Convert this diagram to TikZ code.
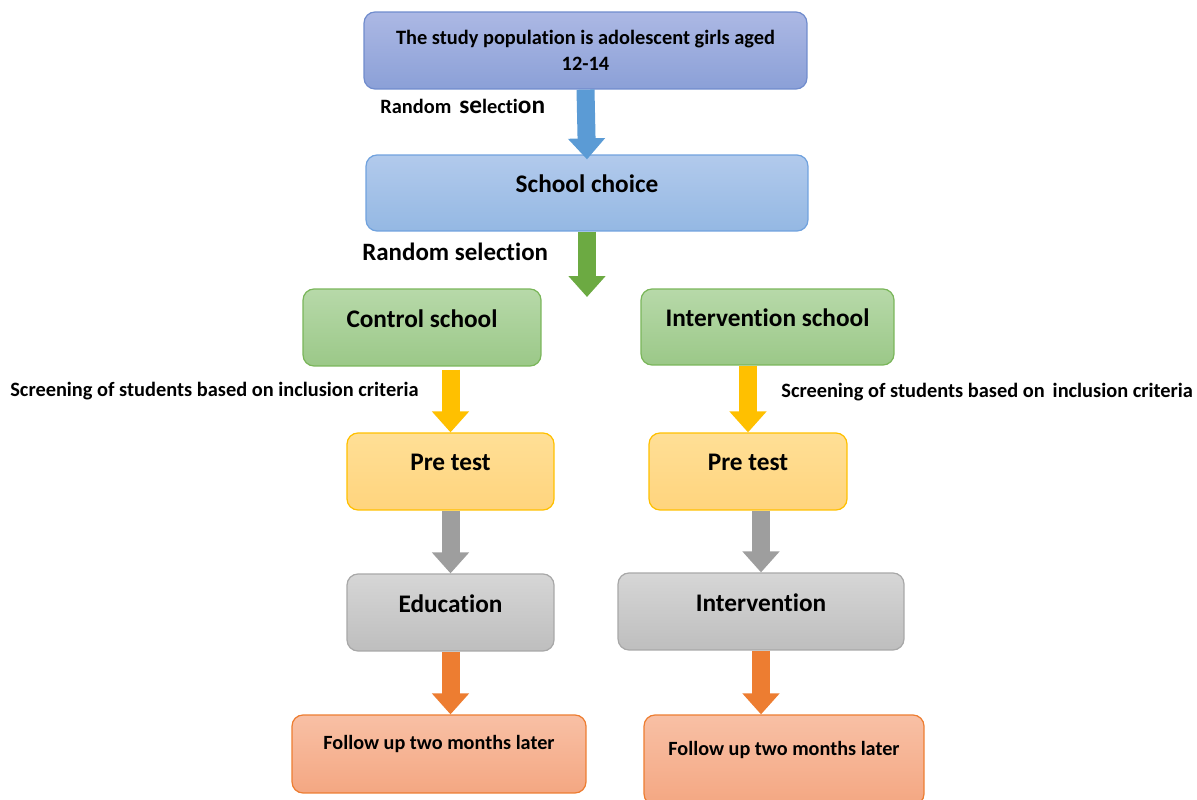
\documentclass[tikz,border=0pt]{standalone}
\usepackage{fontspec}
\setmainfont{Carlito}[Ligatures=NoCommon]
\usetikzlibrary{arrows.meta}

\definecolor{popTop}{RGB}{172,184,228}
\definecolor{popBot}{RGB}{139,160,215}
\definecolor{popLine}{RGB}{112,140,205}
\definecolor{chTop}{RGB}{178,202,236}
\definecolor{chBot}{RGB}{148,184,227}
\definecolor{chLine}{RGB}{112,162,222}
\definecolor{grTop}{RGB}{183,217,169}
\definecolor{grBot}{RGB}{155,200,136}
\definecolor{grLine}{RGB}{122,182,90}
\definecolor{yeTop}{RGB}{255,223,150}
\definecolor{yeBot}{RGB}{255,212,125}
\definecolor{yeLine}{RGB}{255,192,0}
\definecolor{gyTop}{RGB}{214,214,214}
\definecolor{gyBot}{RGB}{190,190,190}
\definecolor{gyLine}{RGB}{168,168,168}
\definecolor{orTop}{RGB}{248,192,165}
\definecolor{orBot}{RGB}{244,167,130}
\definecolor{orLine}{RGB}{237,125,49}
\definecolor{arBlue}{RGB}{91,155,213}
\definecolor{arGreen}{RGB}{108,170,66}
\definecolor{arYellow}{RGB}{255,192,0}
\definecolor{arGray}{RGB}{158,158,158}
\definecolor{arOrange}{RGB}{237,125,49}

\tikzstyle{box} = [rectangle, rounded corners=0.22cm, line width=0.7pt, text centered, font=\bfseries\fontsize{14.4}{17}\selectfont]
\tikzstyle{popbox} = [box, top color=popTop, bottom color=popBot, draw=popLine, align=center, font=\bfseries\fontsize{11.6}{14.8}\selectfont]
\tikzstyle{choicebox} = [box, top color=chTop, bottom color=chBot, draw=chLine, text depth=0.36cm]
\tikzstyle{schoolbox} = [box, top color=grTop, bottom color=grBot, draw=grLine, text depth=0.36cm]
\tikzstyle{testbox} = [box, top color=yeTop, bottom color=yeBot, draw=yeLine, text depth=0.36cm]
\tikzstyle{teachbox} = [box, top color=gyTop, bottom color=gyBot, draw=gyLine, text depth=0.34cm]
\tikzstyle{followbox} = [box, top color=orTop, bottom color=orBot, draw=orLine, text depth=0.48cm, font=\bfseries\fontsize{11.5}{14}\selectfont]
\tikzstyle{note} = [anchor=west, inner sep=0pt, font=\bfseries\fontsize{11.6}{13}\selectfont]
\tikzstyle{arrow} = [line width=0.36cm, -{Triangle[width=0.72cm,length=0.42cm]}]

\begin{document}
\begin{tikzpicture}[x=0.02cm, y=-0.02cm]
            \useasboundingbox (0,0) rectangle (1197,800);

            % boxes, one column per school
            \node (pop)    [popbox, minimum width=8.86cm, minimum height=1.54cm] at (585.5,50.5) {The study population is adolescent girls aged\\12-14};
            \node (choice) [choicebox, minimum width=8.84cm, minimum height=1.52cm] at (587,193) {School choice};
            \node (ctrl)   [schoolbox, minimum width=4.76cm, minimum height=1.54cm] at (422,327.5) {Control school};
            \node (intv)   [schoolbox, minimum width=5.06cm, minimum height=1.52cm] at (767.5,327) {Intervention school};
            \node (pre1)   [testbox, minimum width=4.14cm, minimum height=1.54cm] at (450.5,471.5) {Pre test};
            \node (pre2)   [testbox, minimum width=3.96cm, minimum height=1.54cm] at (748,471.5) {Pre test};
            \node (edu)    [teachbox, minimum width=4.14cm, minimum height=1.54cm] at (450.5,612.5) {Education};
            \node (intn)   [teachbox, minimum width=5.72cm, minimum height=1.54cm] at (761,611.5) {Intervention};
            \node (fol1)   [followbox, minimum width=5.88cm, minimum height=1.56cm] at (439,754) {Follow up two months later};
            \node (fol2)   [followbox, minimum width=5.6cm, minimum height=1.8cm] at (784,760) {Follow up two months later};
            \coordinate (split) at (587,297);

            % labels beside the arrows
            \node (sel1) [note] at (380,106) {Random\, {\fontsize{14.4}{17}\selectfont se}lecti{\fontsize{14.4}{17}\selectfont on}};
            \node (sel2) [note, font=\bfseries\fontsize{14.2}{17}\selectfont] at (362,252) {Random selection};
            \node (scr1) [note] at (10,391) {Screening of students based on inclusion criteria};
            \node (scr2) [note] at (781,392) {Screening of students based on\, inclusion criteria};

            \draw [arrow, draw=arBlue]   (pop.south)  -- ([yshift=-0.1cm]choice.north);
            \draw [arrow, draw=arGreen]  (choice.south) -- (split);
            \draw [arrow, draw=arYellow] ([yshift=-0.06cm]pre1.north |- ctrl.south) -- (pre1.north);
            \draw [arrow, draw=arYellow] (pre2.north |- intv.south) -- (pre2.north);
            \draw [arrow, draw=arGray]   (pre1.south) -- (edu.north);
            \draw [arrow, draw=arGray]   (intn.north |- pre2.south) -- (intn.north);
            \draw [arrow, draw=arOrange] (edu.south)  -- (edu.south |- fol1.north);
            \draw [arrow, draw=arOrange] (intn.south) -- (intn.south |- fol2.north);
        \end{tikzpicture}
\end{document}
